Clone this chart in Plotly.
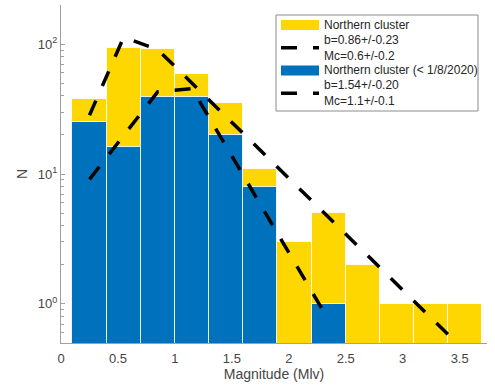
import plotly.graph_objects as go

# Frequency-magnitude histogram (bin width 0.3) with Gutenberg-Richter fits
bin_centers = [0.25, 0.55, 0.85, 1.15, 1.45, 1.75, 2.05, 2.35, 2.65, 2.95, 3.25, 3.55]
counts_all = [38, 94, 91, 59, 35, 11, 3, 5, 2, 1, 1, 1]
counts_early = [25, 16, 39, 39, 20, 8, 0, 1, 0, 0, 0, 0]

fit_all_x = [0.25, 0.55, 0.85, 1.15, 1.45, 1.75, 2.05, 2.35, 2.65, 2.95, 3.25, 3.55]
fit_all = [28.3, 113, 90.6, 50, 27.6, 15.2, 8.4, 4.6, 2.56, 1.42, 0.78, 0.43]
fit_early_x = [0.25, 0.55, 0.85, 1.15, 1.45, 1.75, 2.05, 2.35]
fit_early = [9.1, 19.9, 43, 45.5, 16.3, 5.85, 2.1, 0.75]

x_ticks = [0, 0.5, 1, 1.5, 2, 2.5, 3, 3.5]
x_tick_text = ["0", "0.5", "1", "1.5", "2", "2.5", "3", "3.5"]
y_ticks = [1, 10, 100]
y_tick_text = ["10<sup>0</sup>", "10<sup>1</sup>", "10<sup>2</sup>"]
y_minor = [0.6, 0.7, 0.8, 0.9, 2, 3, 4, 5, 6, 7, 8, 9, 20, 30, 40, 50, 60, 70, 80, 90]

legend_labels = ["Northern cluster",
                 "b=0.86+/-0.23<br>Mc=0.6+/-0.2",
                 "Northern cluster (< 1/8/2020)",
                 "b=1.54+/-0.20<br>Mc=1.1+/-0.1"]

YELLOW = "#FFD700"
BLUE = "#0072BD"
AXIS_GREY = "#a0a0a0"
TEXT_GREY = "#454545"
FONT = "Liberation Sans, Arial, sans-serif"
DASH = "16px,16px"

W, H = 495, 390
ML, MR, MT, MB = 61, 8, 5, 47


def px(x):
    return (x - ML) / (W - ML - MR)


def py(y):
    return (H - MB - y) / (H - MT - MB)


fig = go.Figure()
edge = dict(color="rgba(255,255,255,0.85)", width=1)
fig.add_trace(go.Bar(x=bin_centers, y=counts_all, width=0.3,
                     marker=dict(color=YELLOW, line=edge), showlegend=False))
fig.add_trace(go.Bar(x=bin_centers, y=counts_early, width=0.3,
                     marker=dict(color=BLUE, line=edge), showlegend=False))
fig.add_trace(go.Scatter(x=fit_all_x, y=fit_all, mode="lines",
                         line=dict(color="black", width=3.5, dash=DASH),
                         showlegend=False))
fig.add_trace(go.Scatter(x=fit_early_x, y=fit_early, mode="lines",
                         line=dict(color="black", width=3.5, dash=DASH),
                         showlegend=False))

# Legend box drawn by hand so the patches keep their wide shape
shapes = [dict(type="rect", xref="paper", yref="paper",
               x0=px(276), x1=px(478), y0=py(111), y1=py(15),
               line=dict(color="#8c8c8c", width=1), fillcolor="white", layer="above")]
rows = [25, 47.7, 70.4, 93.3]
shapes.append(dict(type="rect", xref="paper", yref="paper", x0=px(281), x1=px(319),
                   y0=py(rows[0] + 5), y1=py(rows[0] - 5), line=dict(width=0),
                   fillcolor=YELLOW, layer="above"))
shapes.append(dict(type="rect", xref="paper", yref="paper", x0=px(281), x1=px(319),
                   y0=py(rows[2] + 5), y1=py(rows[2] - 5), line=dict(width=0),
                   fillcolor=BLUE, layer="above"))
for r in (rows[1], rows[3]):
    shapes.append(dict(type="line", xref="paper", yref="paper", x0=px(281), x1=px(319),
                       y0=py(r), y1=py(r), layer="above",
                       line=dict(color="black", width=3.5, dash=DASH)))

annotations = []
for r, label in zip(rows, legend_labels):
    annotations.append(dict(xref="paper", yref="paper", x=px(322), y=py(r),
                            text=label, showarrow=False, xanchor="left", yanchor="middle",
                            align="left", font=dict(family=FONT, size=12, color="#262626")))

axis_common = dict(showline=True, linecolor=AXIS_GREY, linewidth=1, ticks="inside",
                   tickcolor=AXIS_GREY, ticklen=4, showgrid=False, zeroline=False,
                   mirror=False, layer="below traces",
                   tickfont=dict(family=FONT, size=13, color=TEXT_GREY))

fig.update_layout(
    width=W, height=H,
    margin=dict(l=ML, r=MR, t=MT, b=MB),
    paper_bgcolor="white", plot_bgcolor="white",
    barmode="overlay", bargap=0,
    showlegend=False,
    xaxis=dict(range=[0, 3.74], tickvals=x_ticks, ticktext=x_tick_text,
               ticklabelstandoff=3,
               title=dict(text="Magnitude (Mlv)", standoff=4,
                          font=dict(family=FONT, size=14, color=TEXT_GREY)),
               **axis_common),
    yaxis=dict(type="log", range=[-0.30103, 2.30103], tickvals=y_ticks,
               ticktext=y_tick_text,
               minor=dict(tickvals=y_minor, ticks="inside", ticklen=3, tickcolor=AXIS_GREY),
               title=dict(text="N", standoff=6,
                          font=dict(family=FONT, size=14, color=TEXT_GREY)),
               **axis_common),
    shapes=shapes,
    annotations=annotations,
)

fig.write_html("out.html")
